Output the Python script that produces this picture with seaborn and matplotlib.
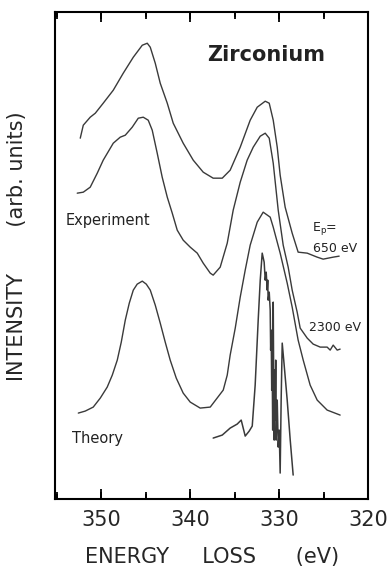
import numpy as np
import pandas as pd
import seaborn as sns
import matplotlib.pyplot as plt
import matplotlib.transforms as mtransforms
from matplotlib.ticker import MultipleLocator

# 能量损失 (eV) 与强度 (任意单位)
ep650_ev = [352.36, 352.02, 351.24, 350.67, 349.78, 348.65, 347.53, 346.40, 345.39, 344.83,
            344.49, 343.93, 343.37, 342.58, 341.91, 340.79, 339.66, 338.54, 337.42, 336.40,
            335.51, 334.38, 333.26, 332.47, 331.57, 331.12, 330.67, 330.22, 329.89, 329.33,
            328.54, 327.87, 326.85, 325.73, 325.06, 323.93, 323.26]
ep650_int = [361, 374, 382, 386, 396, 409, 426, 442, 454, 456,
             452, 436, 416, 396, 376, 356, 339, 327, 321, 321,
             329, 352, 379, 392, 398, 396, 379, 352, 324, 292,
             266, 247, 246, 242, 240, 242, 243]

ep2300_ev = [352.70, 352.02, 351.24, 350.45, 349.78, 348.65, 347.87, 347.30, 346.52, 345.84,
             345.28, 344.72, 344.27, 343.71, 343.15, 342.58, 342.02, 341.46, 340.79, 340.00,
             339.21, 338.54, 337.75, 337.42, 336.63, 335.84, 335.17, 334.38, 333.60, 332.92,
             332.13, 331.57, 331.12, 330.67, 330.11, 329.55, 328.99, 328.54, 327.98, 327.64,
             326.85, 326.18, 325.39, 324.61, 324.27, 323.93, 323.48, 323.15]
ep2300_int = [306, 307, 312, 326, 339, 356, 362, 364, 372, 381,
              382, 379, 369, 346, 322, 302, 286, 269, 259, 252,
              246, 236, 226, 224, 232, 256, 289, 317, 339, 352,
              363, 366, 361, 336, 289, 254, 232, 209, 187, 171,
              161, 155, 152, 152, 149, 154, 149, 150]

theory_ev = [352.58, 351.80, 350.90, 350.11, 349.33, 348.76, 348.20, 347.75, 347.30, 346.85,
             346.40, 345.96, 345.39, 344.94, 344.49, 343.93, 343.37, 342.81, 342.25, 341.57,
             340.79, 340.00, 338.88, 337.75, 336.29, 335.84, 335.51, 334.94, 334.38, 333.82,
             333.26, 332.47, 331.80, 331.01, 330.67, 329.89, 329.10, 328.54, 327.87, 327.30,
             326.52, 325.73, 324.61, 323.15]
theory_int = [86, 88, 92, 101, 112, 124, 139, 157, 179, 196,
              209, 215, 218, 215, 209, 194, 176, 157, 139, 121,
              106, 97, 91, 92, 109, 124, 144, 171, 202, 229,
              254, 277, 287, 282, 272, 246, 216, 192, 159, 139,
              114, 99, 89, 84]

# 未展宽的理论线谱
lines_ev = [337.42, 336.40, 335.51, 334.72, 334.27, 333.82, 333.37, 333.03, 332.70, 332.36,
            332.13, 331.91, 331.69, 331.57, 331.46, 331.35, 331.29, 331.24, 331.12, 331.01,
            330.96, 330.90, 330.84, 330.79, 330.73, 330.67, 330.62, 330.56, 330.51, 330.45,
            330.39, 330.34, 330.22, 330.11, 330.00, 329.89, 329.78, 329.66, 329.44, 329.10,
            328.76, 328.43]
lines_int = [61, 64, 71, 75, 79, 63, 68, 73, 114, 179,
             219, 246, 237, 219, 227, 209, 219, 199, 207, 189,
             149, 169, 109, 139, 69, 197, 119, 59, 129, 79,
             139, 59, 99, 52, 69, 26, 99, 156, 134, 99,
             59, 24]

major_ticks = [350, 340, 330, 320]

sns.set_style('ticks')
plt.rcParams['font.family'] = ['DejaVu Sans']
plt.rcParams['xtick.labelsize'] = 15
plt.rcParams['xtick.major.pad'] = 8

fig = plt.figure(figsize=(3.9, 5.83), dpi=100)
ax = fig.add_axes([0.141, 0.144, 0.803, 0.835])

line_color = '#3a3a3a'
curves = [(ep650_ev, ep650_int, 1.0), (ep2300_ev, ep2300_int, 1.0),
          (theory_ev, theory_int, 1.0), (lines_ev, lines_int, 1.1)]
for xs, ys, lw in curves:
    df = pd.DataFrame({'ev': xs, 'int': ys})
    sns.lineplot(data=df, x='ev', y='int', sort=False, estimator=None,
                 color=line_color, lw=lw, ax=ax)

ax.set_xlim(355.2, 320)
ax.set_ylim(0, 487)
ax.set_xticks(major_ticks)
ax.xaxis.set_minor_locator(MultipleLocator(5))
ax.set_yticks([])
ax.tick_params(axis='x', which='both', direction='in', bottom=True, top=True,
               color='black', width=1.3)
ax.tick_params(axis='x', which='major', length=7)
ax.tick_params(axis='x', which='minor', length=5)
for sp in ax.spines.values():
    sp.set_linewidth(1.5)
    sp.set_color('black')

# 刻度线: 上下边框内侧各画一次, 位置取自刻度定位器
tick_trans = mtransforms.blended_transform_factory(ax.transData, ax.transAxes)
all_ticks = [v for v in ax.xaxis.get_minorticklocs() if 320 <= v <= 355]
all_ticks = sorted(set(all_ticks) | set(major_ticks))
for v in all_ticks:
    h = 0.014 if v in major_ticks else 0.010
    ax.vlines(v, 0, h, transform=tick_trans, color='black', lw=1.3, clip_on=False, zorder=5)
    ax.vlines(v, 1 - h, 1, transform=tick_trans, color='black', lw=1.3, clip_on=False, zorder=5)

ax.set_xlabel('ENERGY     LOSS      (eV)', fontsize=15, labelpad=12)
ax.set_ylabel('INTENSITY       (arb. units)', fontsize=15, labelpad=10)
ax.yaxis.set_label_coords(-0.09, 0.52)

ax.text(331.5, 444, 'Zirconium', fontsize=15, fontweight='bold',
        ha='center', va='center', color='#222222')
ax.text(354.0, 279, 'Experiment', fontsize=10.5, ha='left', va='center', color='#222222')
ax.text(353.3, 61, 'Theory', fontsize=10.5, ha='left', va='center', color='#222222')
ax.text(326.3, 271, 'E$_\\mathregular{p}$=', fontsize=9, ha='left', va='center', color='#222222')
ax.text(326.2, 251, '650 eV', fontsize=9, ha='left', va='center', color='#222222')
ax.text(326.7, 172, '2300 eV', fontsize=9, ha='left', va='center', color='#222222')

fig.savefig('out.png', dpi=100)
